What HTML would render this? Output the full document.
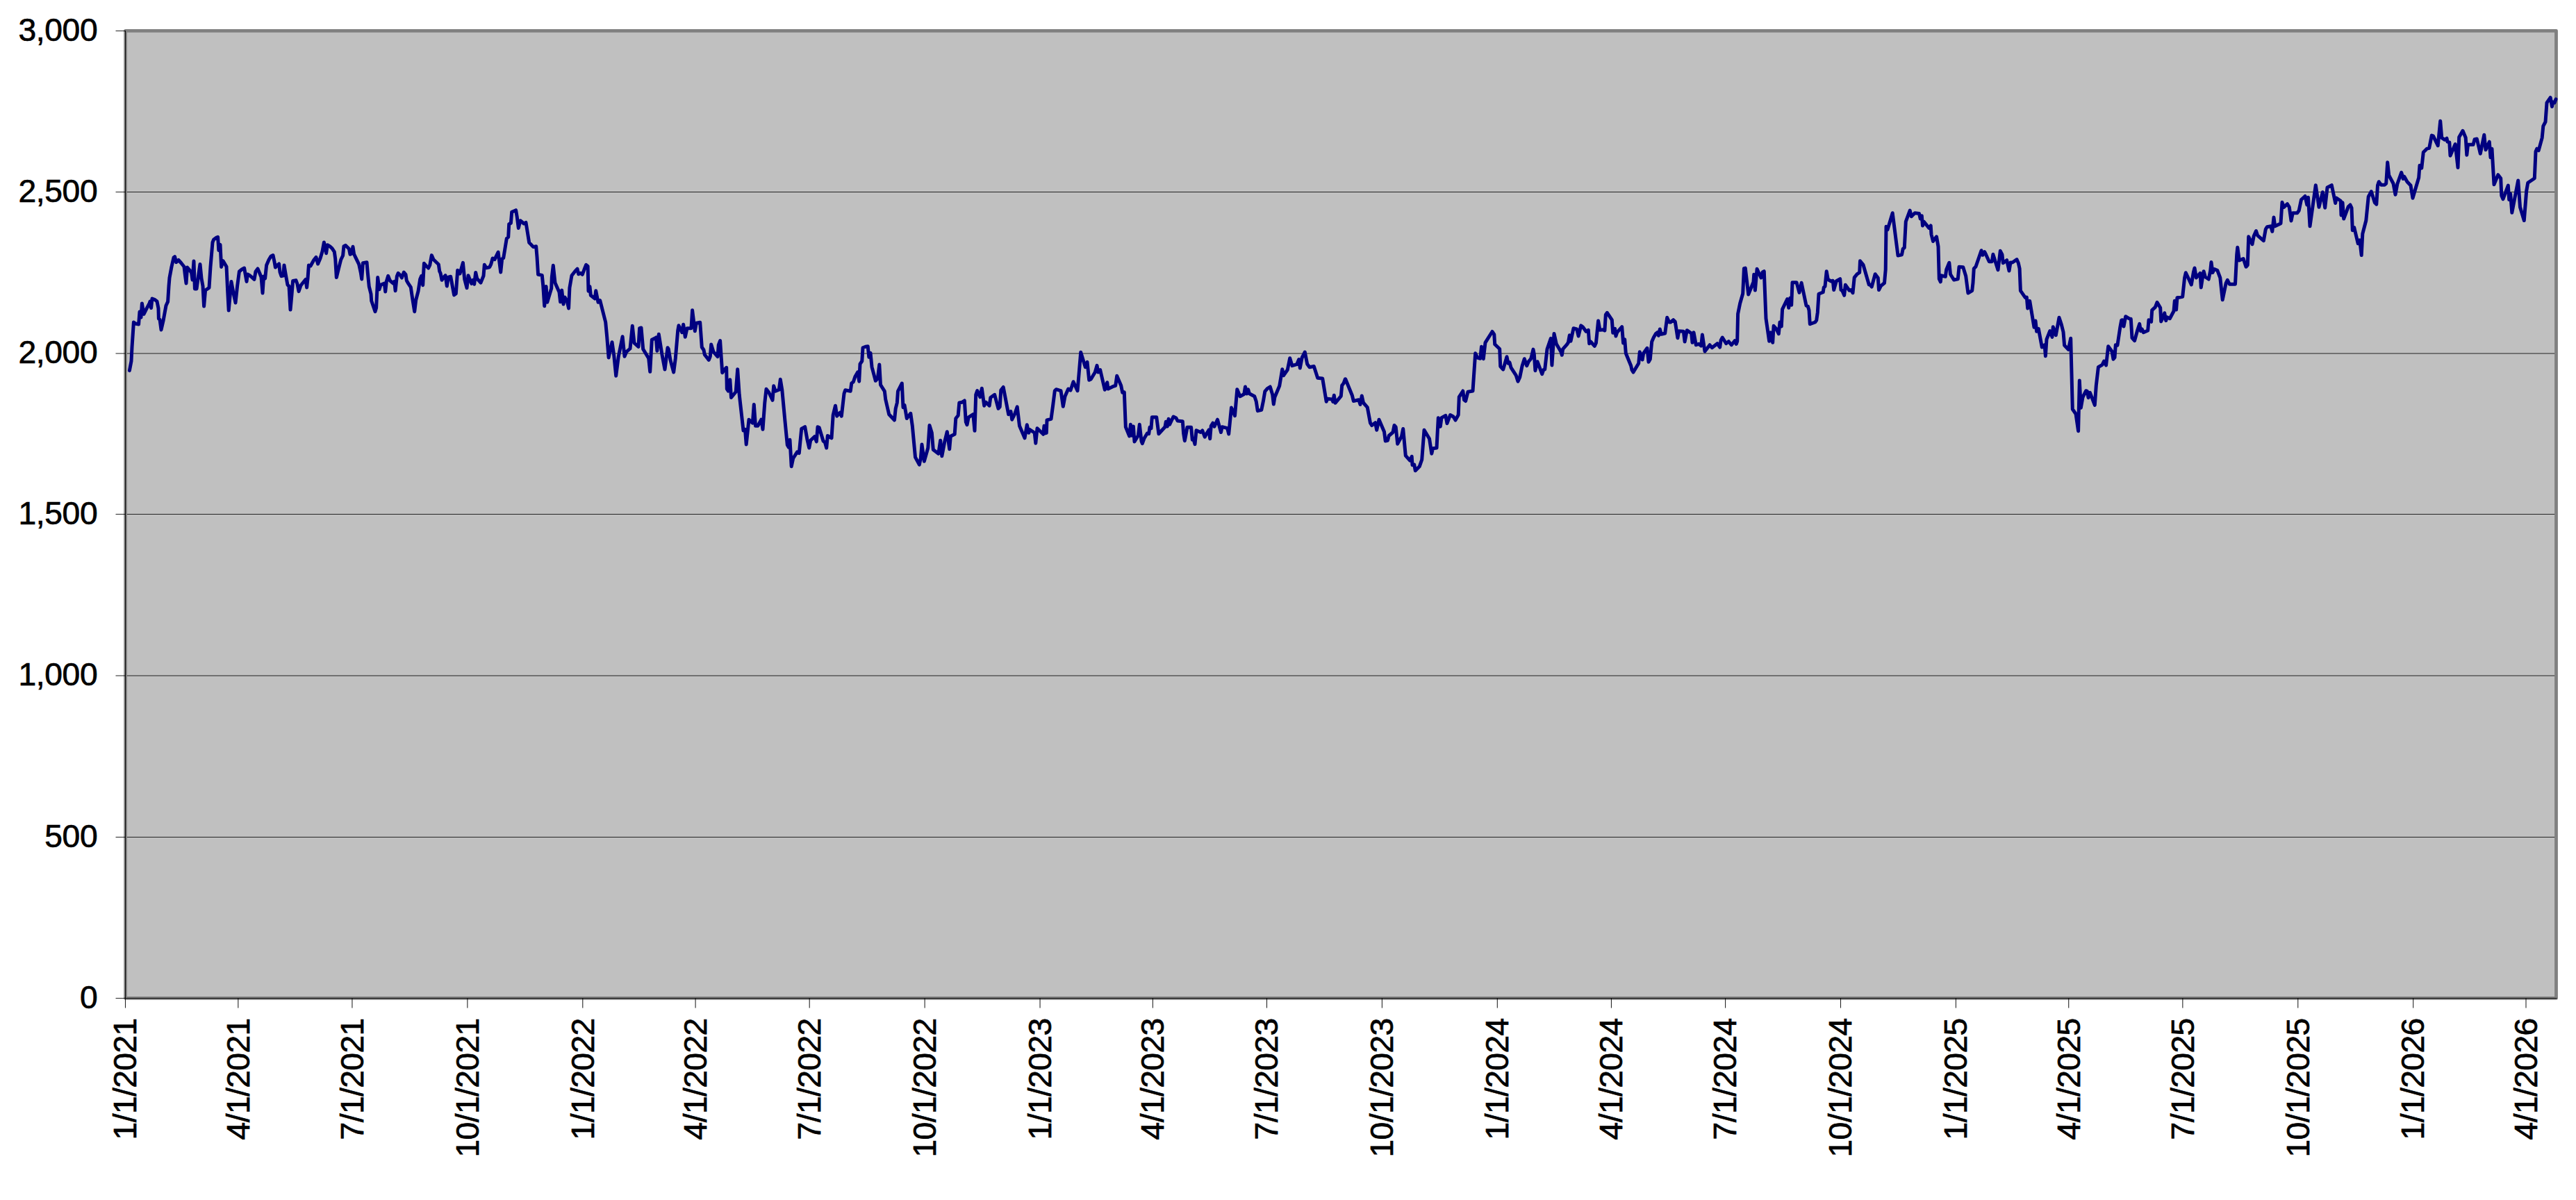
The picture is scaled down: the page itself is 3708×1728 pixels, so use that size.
<!DOCTYPE html><html><head><meta charset="utf-8"><title>Chart</title><style>html,body{margin:0;padding:0;background:#fff;overflow:hidden}svg{display:block}text{font-family:"Liberation Sans",Arial,sans-serif;font-size:46.2px;fill:#000;stroke:#000;stroke-width:0.7px}</style></head><body>
<svg width="3708" height="1728" viewBox="0 0 3708 1728">
<rect x="0" y="0" width="3708" height="1728" fill="#fff"/>
<rect x="180.5" y="44.3" width="3499.0" height="1393.1" fill="#c0c0c0"/>
<line x1="181" x2="3679" y1="1205.50" y2="1205.50" stroke="#000" stroke-opacity="0.82" stroke-width="1.1"/>
<line x1="181" x2="3679" y1="973.00" y2="973.00" stroke="#000" stroke-opacity="0.82" stroke-width="1.1"/>
<line x1="181" x2="3679" y1="740.50" y2="740.50" stroke="#000" stroke-opacity="0.82" stroke-width="1.1"/>
<line x1="181" x2="3679" y1="509.00" y2="509.00" stroke="#000" stroke-opacity="0.82" stroke-width="1.1"/>
<line x1="181" x2="3679" y1="276.50" y2="276.50" stroke="#000" stroke-opacity="0.82" stroke-width="1.1"/>
<rect x="180.5" y="44.3" width="3499.0" height="1393.1" fill="none" stroke="#808080" stroke-width="4.8" stroke-linejoin="round"/>
<polyline fill="none" stroke="#000080" stroke-width="5" stroke-linejoin="round" stroke-linecap="round" points="186.4,533.6 189.0,520.0 190.0,500.0 191.6,476.0 192.4,464.0 195.0,466.0 199.6,467.0 201.0,449.0 203.0,457.0 204.4,437.0 207.0,452.4 211.0,444.4 215.0,437.0 216.0,434.0 217.6,443.6 219.0,430.0 223.0,431.6 226.0,434.0 228.0,444.0 228.4,459.0 230.0,460.0 232.0,475.0 235.0,462.0 239.0,440.0 241.6,434.4 243.0,412.0 244.0,400.0 247.0,384.0 250.0,371.0 251.6,369.6 253.6,377.6 257.0,374.4 261.0,379.0 265.0,384.0 266.4,396.0 268.0,408.0 269.6,385.0 273.0,389.0 275.6,393.0 277.0,403.0 279.0,376.0 280.4,416.0 283.0,416.0 286.0,394.0 288.0,380.4 290.0,401.0 292.0,412.0 293.6,441.0 295.6,418.0 301.0,414.4 303.0,384.0 306.0,349.0 307.6,345.0 311.0,342.4 313.6,341.4 314.8,360.4 317.0,352.4 318.6,384.4 321.0,375.6 326.0,384.0 327.6,418.0 329.2,447.0 333.0,405.6 336.0,422.0 339.0,436.0 341.6,412.0 344.4,391.0 348.0,388.0 351.6,386.0 353.0,394.0 355.0,405.4 356.4,395.0 360.0,397.0 366.0,402.4 368.0,391.0 371.0,387.0 374.0,394.0 376.0,399.0 378.0,422.0 379.6,398.0 381.6,401.0 383.6,382.0 387.0,374.0 390.0,369.0 393.0,367.6 395.0,377.0 396.4,385.0 399.0,382.0 401.6,380.0 403.0,392.0 405.0,397.6 407.6,397.0 409.0,382.0 411.0,394.0 414.0,410.4 416.0,412.0 418.0,446.0 420.0,424.0 421.6,404.4 426.0,403.6 428.0,409.0 430.0,419.6 433.0,411.0 437.0,406.0 440.0,402.4 441.6,414.0 443.0,401.0 444.4,382.0 447.0,383.0 452.0,374.0 455.0,370.4 457.6,380.0 461.0,372.0 464.0,362.0 466.4,349.0 468.3,356.7 469.6,364.7 471.3,352.7 474.7,354.7 478.0,357.7 481.3,362.7 482.7,372.7 484.3,399.6 487.3,387.3 490.7,374.0 493.6,368.0 494.9,354.7 497.3,353.3 502.4,358.3 504.0,366.3 506.0,365.3 508.0,355.3 509.6,366.0 516.7,380.7 519.3,392.7 520.7,402.0 522.4,378.7 528.0,377.7 529.3,392.7 531.3,412.7 534.0,423.3 534.7,433.3 540.0,448.7 541.6,443.3 543.7,399.6 546.0,416.7 548.0,410.3 553.3,408.0 554.7,420.0 556.3,405.3 558.7,397.3 561.3,404.0 566.0,408.0 567.7,405.3 569.1,418.7 571.3,398.0 573.1,393.3 576.0,396.0 578.4,400.0 581.3,392.0 584.0,395.3 585.3,404.0 588.0,408.7 591.3,413.7 593.3,427.3 596.7,448.7 598.7,432.0 602.0,419.3 604.7,402.0 606.7,397.3 608.7,410.7 610.4,379.3 613.3,382.7 616.7,386.0 618.7,382.0 621.3,367.6 624.0,373.7 631.3,380.7 632.7,390.7 634.0,393.3 636.0,403.3 638.7,399.3 641.1,396.7 643.3,412.0 645.3,399.1 648.7,398.3 653.6,424.9 656.3,422.7 658.7,389.3 662.0,394.0 666.4,378.3 668.7,402.0 672.0,414.7 674.0,396.7 678.7,408.4 680.7,403.3 682.7,409.3 684.7,392.4 686.7,401.3 692.0,407.1 696.0,397.3 697.3,381.3 700.0,385.7 704.7,384.7 706.7,380.7 709.1,372.0 712.0,373.7 717.1,363.1 720.7,392.0 722.7,372.7 724.7,371.6 729.3,343.3 731.7,341.3 732.7,322.7 735.4,321.3 736.7,305.3 739.7,304.0 742.6,302.7 744.3,312.7 746.3,328.4 749.0,317.7 754.1,322.0 757.0,320.4 759.0,332.7 761.7,349.3 767.7,355.6 771.7,354.7 773.0,370.0 774.6,395.3 780.3,396.4 781.7,410.7 783.7,440.7 786.1,412.4 787.7,435.3 793.7,415.3 794.3,399.3 796.3,382.3 799.0,407.3 805.0,420.7 806.6,434.7 808.7,418.0 811.0,438.0 813.0,428.0 816.3,434.0 818.6,444.0 819.9,414.7 823.0,396.7 827.7,390.7 831.0,387.1 832.7,394.7 835.7,393.3 838.3,395.3 841.0,388.0 843.7,381.3 846.1,383.3 847.0,419.3 849.0,412.7 850.3,425.3 856.3,430.0 857.7,418.7 861.0,435.3 863.7,432.7 871.7,464.0 873.7,485.3 876.1,514.9 881.0,492.7 883.7,511.3 886.7,541.3 890.3,513.3 896.1,484.7 899.0,513.3 901.7,506.7 907.0,502.0 910.3,469.3 913.0,494.0 919.0,499.3 920.6,472.7 923.0,472.0 925.7,502.7 933.7,516.0 935.7,535.3 938.3,489.3 942.3,487.3 944.3,486.0 945.9,505.3 948.3,481.3 953.0,510.7 957.0,532.0 961.0,500.7 962.3,502.7 965.0,518.7 969.7,536.0 972.3,516.0 975.7,476.0 977.0,468.7 981.7,478.7 983.7,467.3 986.3,485.3 989.0,472.7 995.0,472.7 996.6,446.7 1000.3,476.7 1002.3,465.3 1007.7,464.3 1010.3,500.0 1013.0,504.0 1014.3,510.7 1020.3,518.4 1022.3,513.3 1023.7,496.0 1027.0,506.7 1033.0,513.6 1034.3,496.7 1036.6,490.7 1039.7,536.7 1043.0,532.0 1045.7,529.3 1046.3,560.0 1048.3,563.0 1050.8,546.7 1052.5,572.5 1059.2,564.2 1061.7,531.7 1064.2,568.3 1070.0,620.0 1072.5,618.3 1074.2,640.0 1078.0,604.2 1083.3,609.2 1085.3,582.5 1087.5,613.3 1090.8,613.3 1095.8,604.2 1098.0,618.3 1100.8,580.0 1103.0,560.3 1106.7,565.0 1112.0,576.3 1113.7,555.8 1116.3,563.3 1121.3,561.3 1123.3,546.3 1125.8,561.7 1130.0,606.7 1133.3,640.8 1135.3,644.2 1137.0,633.3 1139.2,671.7 1141.7,660.0 1147.5,650.8 1150.3,652.5 1153.7,617.5 1158.7,614.7 1162.0,633.3 1164.7,645.0 1166.7,634.2 1172.5,628.7 1175.3,635.8 1177.0,614.7 1179.2,615.8 1185.0,635.0 1187.5,637.0 1189.7,645.0 1191.3,627.5 1197.0,630.8 1199.2,597.5 1202.5,584.2 1204.7,599.2 1209.2,594.2 1211.3,599.2 1215.0,566.7 1216.7,561.7 1224.2,563.3 1225.8,551.7 1228.3,550.0 1230.8,542.5 1234.7,535.8 1236.7,549.2 1238.0,524.2 1240.8,520.0 1242.0,500.8 1245.8,499.2 1249.2,498.7 1250.8,514.2 1253.0,508.3 1255.0,528.3 1260.3,548.3 1263.3,545.0 1265.8,525.0 1267.5,554.2 1273.3,563.3 1274.7,575.0 1279.7,596.7 1287.5,605.0 1289.2,588.3 1291.3,580.0 1292.5,563.3 1298.3,552.0 1300.0,586.7 1302.0,583.3 1305.3,602.5 1310.8,595.3 1313.3,613.3 1317.5,658.3 1323.3,669.2 1325.3,660.0 1327.0,640.0 1330.3,664.2 1335.8,645.0 1338.0,612.5 1341.3,623.3 1343.3,647.5 1350.8,653.3 1353.7,634.2 1355.8,656.7 1360.0,635.0 1363.3,621.7 1366.7,646.7 1368.3,628.3 1374.2,625.3 1375.8,602.5 1379.2,598.3 1380.8,580.0 1385.0,579.2 1388.3,577.0 1390.3,607.5 1392.0,611.7 1394.2,600.8 1400.8,596.7 1403.0,620.3 1404.7,568.3 1406.7,562.5 1410.8,571.7 1413.3,559.2 1416.7,584.2 1419.2,579.2 1424.2,584.2 1425.8,572.5 1431.7,568.3 1437.0,588.3 1439.2,585.8 1440.8,561.7 1444.2,557.5 1451.7,596.7 1455.0,592.5 1456.7,604.2 1460.8,595.8 1464.2,585.8 1467.5,613.3 1475.0,630.8 1478.3,611.7 1480.8,623.3 1482.5,618.7 1489.2,623.3 1490.8,638.3 1493.0,616.7 1501.7,625.3 1503.0,613.3 1504.3,624.0 1506.3,623.3 1507.0,604.9 1513.0,603.3 1515.7,583.3 1518.3,562.7 1520.3,560.7 1527.0,562.7 1530.3,585.3 1533.0,570.7 1537.7,560.0 1541.0,562.0 1545.0,549.7 1551.0,562.7 1553.7,531.3 1555.7,507.3 1562.3,528.7 1565.0,521.3 1567.7,547.3 1570.3,546.0 1576.3,536.0 1579.0,526.3 1580.7,536.0 1583.7,532.7 1590.3,561.3 1593.7,550.7 1595.0,560.0 1601.7,556.7 1605.7,555.3 1607.7,541.3 1613.7,555.3 1615.7,565.3 1618.3,564.7 1620.3,614.7 1625.7,628.0 1627.4,611.3 1629.0,627.3 1631.4,614.0 1633.0,636.0 1638.3,627.3 1640.3,611.3 1643.0,635.3 1644.3,638.7 1647.0,631.3 1651.4,624.0 1653.7,624.7 1655.0,615.3 1657.0,616.7 1658.3,600.7 1664.7,600.7 1667.9,624.7 1677.0,614.7 1678.3,607.3 1680.3,614.0 1682.1,603.3 1683.7,611.3 1689.0,600.0 1693.0,602.0 1695.0,606.0 1702.3,606.7 1703.7,624.7 1705.3,634.7 1709.0,615.3 1714.6,615.3 1716.3,633.3 1717.7,631.3 1720.0,639.7 1722.0,619.7 1728.3,622.5 1730.8,620.0 1734.2,629.2 1737.5,623.3 1740.0,619.2 1741.7,631.7 1743.3,613.3 1745.8,609.2 1748.0,614.2 1752.5,604.2 1755.0,613.3 1757.5,622.5 1759.2,614.7 1766.7,616.7 1768.7,625.0 1772.5,587.0 1777.5,598.7 1780.8,560.8 1785.0,570.8 1790.8,567.5 1792.5,557.0 1794.7,567.0 1796.7,560.8 1798.3,566.7 1805.8,570.8 1808.3,578.3 1810.3,591.7 1815.8,590.3 1818.3,578.3 1820.8,563.7 1824.2,559.7 1828.3,557.0 1831.7,568.3 1833.3,582.0 1835.0,571.7 1841.7,555.8 1845.8,531.7 1847.5,540.8 1853.3,532.5 1856.7,515.8 1860.0,526.7 1866.7,524.7 1869.7,517.5 1871.3,530.0 1874.2,515.0 1878.3,507.0 1881.7,524.2 1885.0,528.7 1891.3,527.5 1896.7,544.2 1903.7,545.0 1909.2,578.3 1910.8,574.2 1917.5,575.0 1918.7,578.3 1920.3,569.2 1922.0,580.3 1930.3,570.3 1931.7,555.0 1934.2,551.7 1936.3,545.8 1936.7,545.8 1946.3,569.2 1948.3,577.5 1955.8,575.8 1958.0,582.5 1960.3,570.0 1962.5,580.0 1968.3,586.7 1972.5,609.2 1974.7,612.5 1979.7,608.7 1981.7,619.2 1985.0,604.2 1992.5,621.7 1994.2,635.0 1997.5,634.2 1999.2,627.5 2005.0,622.5 2007.0,612.5 2009.2,615.0 2011.7,639.2 2017.5,628.3 2019.7,617.5 2023.3,656.2 2029.5,663.2 2032.2,657.3 2033.0,669.7 2035.7,669.0 2037.3,677.8 2043.2,671.8 2046.7,662.0 2050.0,619.2 2057.5,631.7 2060.8,653.3 2062.5,645.8 2068.0,645.0 2070.3,601.7 2073.3,614.2 2075.0,601.7 2080.8,598.3 2083.0,609.7 2087.5,597.5 2092.0,600.0 2095.0,605.0 2099.2,597.5 2100.3,571.7 2105.8,563.0 2107.5,575.8 2109.7,577.5 2113.0,564.2 2120.0,563.0 2123.7,508.7 2126.7,515.0 2130.8,516.3 2132.5,499.2 2135.3,516.7 2138.0,493.3 2148.0,477.5 2150.8,481.7 2151.7,495.8 2158.7,502.5 2159.7,527.5 2163.3,531.7 2163.7,532.0 2169.0,513.7 2171.0,523.3 2173.0,522.0 2175.0,529.3 2182.3,540.7 2185.0,549.3 2187.7,543.3 2191.0,527.3 2194.3,516.7 2197.7,526.7 2200.3,520.7 2203.7,516.7 2207.0,503.1 2208.3,510.0 2209.9,533.7 2213.0,520.7 2219.7,538.7 2221.7,532.7 2223.7,532.0 2227.0,502.7 2232.3,487.3 2233.9,526.0 2237.0,480.4 2240.3,495.3 2247.0,506.7 2248.3,511.3 2249.7,502.7 2255.0,496.7 2257.4,493.3 2259.3,482.7 2261.0,491.3 2265.0,472.7 2269.7,474.0 2272.1,484.0 2275.7,468.9 2278.3,470.7 2283.0,477.3 2286.3,475.3 2287.7,494.7 2289.7,492.0 2295.3,498.3 2297.4,494.0 2300.6,462.0 2303.0,475.3 2307.7,474.7 2309.9,476.0 2311.3,453.3 2313.4,450.3 2320.3,460.7 2321.7,479.3 2324.6,473.3 2325.9,484.0 2327.7,478.7 2334.7,470.7 2336.6,494.0 2338.7,488.7 2340.3,508.7 2347.7,526.7 2349.0,532.7 2351.0,536.0 2358.7,523.3 2360.3,506.7 2364.1,518.0 2365.7,508.7 2371.0,501.3 2373.0,521.3 2375.3,517.3 2377.7,492.0 2380.3,486.0 2383.3,480.7 2385.7,478.7 2387.3,483.3 2389.3,474.0 2391.3,481.3 2396.7,480.0 2399.7,457.3 2402.7,464.0 2404.7,464.0 2408.7,460.7 2411.3,463.3 2414.9,486.7 2416.7,476.7 2423.3,477.3 2425.1,492.0 2428.3,475.7 2434.7,480.0 2436.0,493.3 2438.0,478.7 2441.3,496.7 2445.3,495.3 2448.7,498.0 2450.4,482.0 2454.0,506.0 2461.1,496.7 2464.3,500.7 2472.0,494.7 2475.7,500.0 2477.1,490.0 2479.3,486.0 2484.7,494.7 2488.3,491.7 2492.3,496.7 2497.1,490.7 2499.3,495.3 2500.7,491.3 2501.6,452.0 2504.7,436.7 2508.7,422.7 2510.4,386.7 2512.3,386.0 2516.7,424.0 2524.0,406.0 2524.7,395.3 2526.4,418.0 2529.1,387.3 2534.9,400.0 2537.1,392.0 2539.3,390.7 2542.0,458.7 2546.7,491.3 2548.7,478.7 2551.7,493.3 2553.1,469.3 2556.7,473.3 2560.3,480.7 2562.0,464.0 2564.3,470.0 2565.6,445.3 2572.7,430.7 2574.7,443.3 2576.7,429.3 2578.7,439.3 2580.0,406.7 2586.0,406.7 2590.0,421.3 2593.1,407.3 2600.0,440.0 2602.4,441.3 2604.0,446.7 2605.3,466.7 2612.7,464.0 2614.7,461.3 2616.3,450.0 2618.0,423.3 2624.2,420.8 2625.3,413.7 2627.0,412.5 2629.2,390.8 2631.3,402.5 2635.8,405.0 2638.3,404.2 2639.7,417.5 2643.3,404.7 2648.7,401.7 2650.0,417.5 2651.7,418.3 2654.7,425.3 2656.3,410.3 2662.0,418.3 2664.7,417.5 2667.0,421.7 2669.2,399.7 2673.3,394.7 2676.7,392.5 2677.5,375.8 2682.0,381.3 2690.3,410.0 2692.0,410.0 2694.2,413.0 2699.2,394.7 2703.3,400.3 2704.5,417.5 2707.5,411.7 2712.5,407.5 2714.2,388.3 2715.0,326.3 2717.0,330.8 2724.2,306.7 2732.0,368.0 2737.5,366.7 2739.2,358.3 2741.3,356.7 2743.3,319.2 2749.2,303.0 2751.3,311.7 2756.3,306.7 2762.5,307.5 2764.2,315.0 2766.3,310.8 2767.5,325.0 2769.2,319.2 2776.7,328.3 2779.2,325.0 2780.0,337.5 2782.5,347.5 2787.5,340.8 2790.0,355.0 2791.3,401.7 2793.3,405.8 2794.2,396.7 2800.3,398.3 2801.7,388.3 2805.8,378.3 2807.5,395.0 2812.5,403.0 2818.3,401.7 2820.0,384.2 2825.8,384.7 2829.7,397.5 2832.9,422.0 2838.7,418.7 2840.0,407.3 2841.3,386.7 2844.0,384.0 2852.0,360.7 2854.0,367.3 2856.7,362.7 2858.7,366.7 2863.3,376.7 2867.3,376.7 2868.9,366.3 2876.0,388.7 2879.3,361.3 2882.0,366.7 2883.3,378.7 2888.7,374.7 2892.0,390.0 2894.0,378.0 2896.7,378.0 2903.1,373.7 2905.3,378.7 2907.1,386.7 2908.4,418.7 2915.3,428.7 2917.3,428.0 2918.7,444.0 2921.7,433.3 2928.0,471.3 2930.0,462.0 2931.6,477.3 2934.3,473.3 2939.3,500.0 2943.1,496.7 2944.4,512.7 2946.0,488.7 2950.7,476.7 2954.0,485.3 2955.3,470.7 2959.3,482.7 2964.0,457.3 2967.3,467.3 2970.0,478.0 2971.6,497.3 2977.3,503.3 2980.7,487.3 2983.3,589.3 2988.0,596.0 2991.6,620.7 2993.3,548.0 2995.3,587.3 2998.0,572.0 3002.7,562.7 3004.4,563.3 3006.0,572.7 3008.4,565.3 3015.3,583.3 3017.3,555.3 3020.4,528.7 3026.0,525.3 3028.7,520.0 3031.6,526.0 3034.7,498.7 3040.0,506.0 3042.0,517.3 3044.0,514.7 3045.3,496.7 3047.9,497.3 3051.7,472.0 3053.7,461.1 3055.0,460.7 3057.0,470.0 3059.7,455.7 3065.0,458.9 3067.3,459.3 3069.0,486.7 3072.6,490.7 3076.6,476.0 3079.7,466.4 3081.4,476.7 3083.3,474.0 3085.4,478.7 3091.7,476.0 3093.0,460.7 3096.6,463.3 3097.7,446.7 3102.3,442.4 3105.0,435.3 3109.7,443.3 3110.7,462.9 3113.7,456.7 3115.7,450.7 3117.7,461.6 3119.3,456.7 3123.3,458.7 3129.0,448.0 3130.3,433.3 3132.6,446.0 3133.9,428.7 3141.7,427.3 3144.6,400.0 3146.3,392.7 3150.3,401.3 3154.3,410.0 3157.4,392.0 3159.0,386.0 3161.4,400.0 3167.0,393.3 3168.3,414.0 3171.0,396.0 3172.1,390.7 3174.3,398.7 3179.2,402.0 3181.7,390.0 3183.0,377.5 3185.0,392.5 3187.5,387.5 3191.7,389.2 3195.8,400.0 3199.2,431.7 3204.2,407.5 3206.3,403.3 3209.2,409.2 3217.5,409.2 3219.7,366.7 3220.8,356.3 3223.3,375.0 3229.2,372.5 3233.0,384.2 3235.3,381.7 3236.7,340.8 3242.0,351.7 3244.2,340.0 3247.5,332.5 3249.7,339.2 3258.3,346.7 3261.3,330.0 3263.3,326.7 3268.7,325.8 3270.8,333.3 3273.0,313.0 3274.7,325.8 3283.0,321.7 3285.0,291.3 3287.5,298.3 3292.5,293.7 3295.3,298.3 3298.0,318.0 3300.3,306.7 3306.7,306.7 3309.2,303.3 3312.5,287.5 3318.0,282.5 3320.8,295.0 3322.5,284.2 3325.0,325.8 3333.3,266.7 3338.0,298.3 3343.3,276.7 3346.7,299.2 3350.0,270.0 3356.3,266.7 3361.7,292.5 3363.0,285.0 3369.2,289.2 3370.0,310.0 3372.0,291.7 3373.7,315.0 3380.3,297.5 3383.0,295.0 3385.0,299.2 3386.3,331.7 3388.7,327.5 3394.2,350.8 3396.7,345.8 3399.2,367.5 3400.8,336.7 3405.8,317.5 3409.2,283.3 3413.3,275.8 3418.3,291.7 3420.8,294.2 3422.5,266.7 3424.2,261.7 3427.5,266.3 3432.5,266.3 3434.7,264.2 3436.7,233.7 3438.7,252.5 3445.0,264.2 3448.0,280.3 3450.8,265.0 3456.7,248.3 3459.2,257.5 3460.8,254.2 3465.0,261.7 3470.0,267.0 3473.0,285.3 3481.7,255.8 3483.0,238.3 3485.8,242.0 3488.3,219.2 3493.3,214.2 3496.7,213.3 3500.3,195.0 3502.5,195.8 3509.2,209.7 3512.7,174.2 3514.7,198.3 3519.2,201.3 3522.0,199.2 3523.0,204.2 3525.8,205.0 3527.0,224.2 3534.2,207.5 3538.0,241.3 3539.7,197.5 3545.0,188.3 3549.2,198.3 3550.8,223.3 3552.5,208.3 3560.0,208.3 3562.0,200.8 3565.3,200.0 3570.3,221.3 3575.8,194.2 3578.0,215.8 3583.3,204.2 3585.0,226.7 3587.0,214.2 3590.0,265.8 3595.8,251.7 3599.7,256.7 3600.8,281.7 3603.0,286.7 3610.3,267.0 3611.7,287.5 3613.7,279.2 3615.8,306.3 3624.7,260.0 3627.5,298.3 3633.3,317.5 3636.7,275.0 3638.7,263.3 3648.3,256.7 3650.0,218.3 3651.7,214.2 3654.2,216.7 3659.2,198.3 3660.8,181.7 3664.0,175.5 3666.0,148.0 3671.2,140.5 3673.5,153.5 3674.8,147.0 3677.0,148.0 3679.0,142.8"/>
<line x1="178.9" x2="178.9" y1="46" y2="1436" stroke="#fff" stroke-opacity="0.2" stroke-width="1.8"/>
<line x1="180.5" x2="180.5" y1="44" y2="1438" stroke="#000" stroke-opacity="0.95" stroke-width="1.15"/>
<line x1="180" x2="3680.5" y1="1437.5" y2="1437.5" stroke="#000" stroke-opacity="0.92" stroke-width="1.15"/>
<line x1="166.5" x2="180.5" y1="1437.50" y2="1437.50" stroke="#000" stroke-opacity="0.8" stroke-width="1.1"/>
<text x="140.3" y="1451.60" text-anchor="end" letter-spacing="-0.35">0</text>
<line x1="166.5" x2="180.5" y1="1205.50" y2="1205.50" stroke="#000" stroke-opacity="0.8" stroke-width="1.1"/>
<text x="140.3" y="1219.60" text-anchor="end" letter-spacing="-0.35">500</text>
<line x1="166.5" x2="180.5" y1="973.00" y2="973.00" stroke="#000" stroke-opacity="0.8" stroke-width="1.1"/>
<text x="140.3" y="987.10" text-anchor="end" letter-spacing="-0.35">1,000</text>
<line x1="166.5" x2="180.5" y1="740.50" y2="740.50" stroke="#000" stroke-opacity="0.8" stroke-width="1.1"/>
<text x="140.3" y="754.60" text-anchor="end" letter-spacing="-0.35">1,500</text>
<line x1="166.5" x2="180.5" y1="509.00" y2="509.00" stroke="#000" stroke-opacity="0.8" stroke-width="1.1"/>
<text x="140.3" y="523.10" text-anchor="end" letter-spacing="-0.35">2,000</text>
<line x1="166.5" x2="180.5" y1="276.50" y2="276.50" stroke="#000" stroke-opacity="0.8" stroke-width="1.1"/>
<text x="140.3" y="290.60" text-anchor="end" letter-spacing="-0.35">2,500</text>
<line x1="166.5" x2="180.5" y1="44.50" y2="44.50" stroke="#000" stroke-opacity="0.8" stroke-width="1.1"/>
<text x="140.3" y="58.60" text-anchor="end" letter-spacing="-0.35">3,000</text>
<line x1="180.50" x2="180.50" y1="1437.5" y2="1451.5" stroke="#000" stroke-opacity="0.85" stroke-width="1.1"/>
<text transform="translate(196.30,1466.4) rotate(-90)" text-anchor="end" letter-spacing="-0.6">1/1/2021</text>
<line x1="342.81" x2="342.81" y1="1437.5" y2="1451.5" stroke="#000" stroke-opacity="0.85" stroke-width="1.1"/>
<text transform="translate(358.61,1466.4) rotate(-90)" text-anchor="end" letter-spacing="-0.6">4/1/2021</text>
<line x1="506.93" x2="506.93" y1="1437.5" y2="1451.5" stroke="#000" stroke-opacity="0.85" stroke-width="1.1"/>
<text transform="translate(522.73,1466.4) rotate(-90)" text-anchor="end" letter-spacing="-0.6">7/1/2021</text>
<line x1="672.85" x2="672.85" y1="1437.5" y2="1451.5" stroke="#000" stroke-opacity="0.85" stroke-width="1.1"/>
<text transform="translate(688.65,1466.4) rotate(-90)" text-anchor="end" letter-spacing="-0.6">10/1/2021</text>
<line x1="838.78" x2="838.78" y1="1437.5" y2="1451.5" stroke="#000" stroke-opacity="0.85" stroke-width="1.1"/>
<text transform="translate(854.58,1466.4) rotate(-90)" text-anchor="end" letter-spacing="-0.6">1/1/2022</text>
<line x1="1001.09" x2="1001.09" y1="1437.5" y2="1451.5" stroke="#000" stroke-opacity="0.85" stroke-width="1.1"/>
<text transform="translate(1016.89,1466.4) rotate(-90)" text-anchor="end" letter-spacing="-0.6">4/1/2022</text>
<line x1="1165.21" x2="1165.21" y1="1437.5" y2="1451.5" stroke="#000" stroke-opacity="0.85" stroke-width="1.1"/>
<text transform="translate(1181.01,1466.4) rotate(-90)" text-anchor="end" letter-spacing="-0.6">7/1/2022</text>
<line x1="1331.13" x2="1331.13" y1="1437.5" y2="1451.5" stroke="#000" stroke-opacity="0.85" stroke-width="1.1"/>
<text transform="translate(1346.93,1466.4) rotate(-90)" text-anchor="end" letter-spacing="-0.6">10/1/2022</text>
<line x1="1497.05" x2="1497.05" y1="1437.5" y2="1451.5" stroke="#000" stroke-opacity="0.85" stroke-width="1.1"/>
<text transform="translate(1512.85,1466.4) rotate(-90)" text-anchor="end" letter-spacing="-0.6">1/1/2023</text>
<line x1="1659.37" x2="1659.37" y1="1437.5" y2="1451.5" stroke="#000" stroke-opacity="0.85" stroke-width="1.1"/>
<text transform="translate(1675.17,1466.4) rotate(-90)" text-anchor="end" letter-spacing="-0.6">4/1/2023</text>
<line x1="1823.49" x2="1823.49" y1="1437.5" y2="1451.5" stroke="#000" stroke-opacity="0.85" stroke-width="1.1"/>
<text transform="translate(1839.29,1466.4) rotate(-90)" text-anchor="end" letter-spacing="-0.6">7/1/2023</text>
<line x1="1989.41" x2="1989.41" y1="1437.5" y2="1451.5" stroke="#000" stroke-opacity="0.85" stroke-width="1.1"/>
<text transform="translate(2005.21,1466.4) rotate(-90)" text-anchor="end" letter-spacing="-0.6">10/1/2023</text>
<line x1="2155.33" x2="2155.33" y1="1437.5" y2="1451.5" stroke="#000" stroke-opacity="0.85" stroke-width="1.1"/>
<text transform="translate(2171.13,1466.4) rotate(-90)" text-anchor="end" letter-spacing="-0.6">1/1/2024</text>
<line x1="2319.45" x2="2319.45" y1="1437.5" y2="1451.5" stroke="#000" stroke-opacity="0.85" stroke-width="1.1"/>
<text transform="translate(2335.25,1466.4) rotate(-90)" text-anchor="end" letter-spacing="-0.6">4/1/2024</text>
<line x1="2483.57" x2="2483.57" y1="1437.5" y2="1451.5" stroke="#000" stroke-opacity="0.85" stroke-width="1.1"/>
<text transform="translate(2499.37,1466.4) rotate(-90)" text-anchor="end" letter-spacing="-0.6">7/1/2024</text>
<line x1="2649.49" x2="2649.49" y1="1437.5" y2="1451.5" stroke="#000" stroke-opacity="0.85" stroke-width="1.1"/>
<text transform="translate(2665.29,1466.4) rotate(-90)" text-anchor="end" letter-spacing="-0.6">10/1/2024</text>
<line x1="2815.41" x2="2815.41" y1="1437.5" y2="1451.5" stroke="#000" stroke-opacity="0.85" stroke-width="1.1"/>
<text transform="translate(2831.21,1466.4) rotate(-90)" text-anchor="end" letter-spacing="-0.6">1/1/2025</text>
<line x1="2977.72" x2="2977.72" y1="1437.5" y2="1451.5" stroke="#000" stroke-opacity="0.85" stroke-width="1.1"/>
<text transform="translate(2993.52,1466.4) rotate(-90)" text-anchor="end" letter-spacing="-0.6">4/1/2025</text>
<line x1="3141.84" x2="3141.84" y1="1437.5" y2="1451.5" stroke="#000" stroke-opacity="0.85" stroke-width="1.1"/>
<text transform="translate(3157.64,1466.4) rotate(-90)" text-anchor="end" letter-spacing="-0.6">7/1/2025</text>
<line x1="3307.76" x2="3307.76" y1="1437.5" y2="1451.5" stroke="#000" stroke-opacity="0.85" stroke-width="1.1"/>
<text transform="translate(3323.56,1466.4) rotate(-90)" text-anchor="end" letter-spacing="-0.6">10/1/2025</text>
<line x1="3473.69" x2="3473.69" y1="1437.5" y2="1451.5" stroke="#000" stroke-opacity="0.85" stroke-width="1.1"/>
<text transform="translate(3489.49,1466.4) rotate(-90)" text-anchor="end" letter-spacing="-0.6">1/1/2026</text>
<line x1="3636.00" x2="3636.00" y1="1437.5" y2="1451.5" stroke="#000" stroke-opacity="0.85" stroke-width="1.1"/>
<text transform="translate(3651.80,1466.4) rotate(-90)" text-anchor="end" letter-spacing="-0.6">4/1/2026</text>
</svg></body></html>
